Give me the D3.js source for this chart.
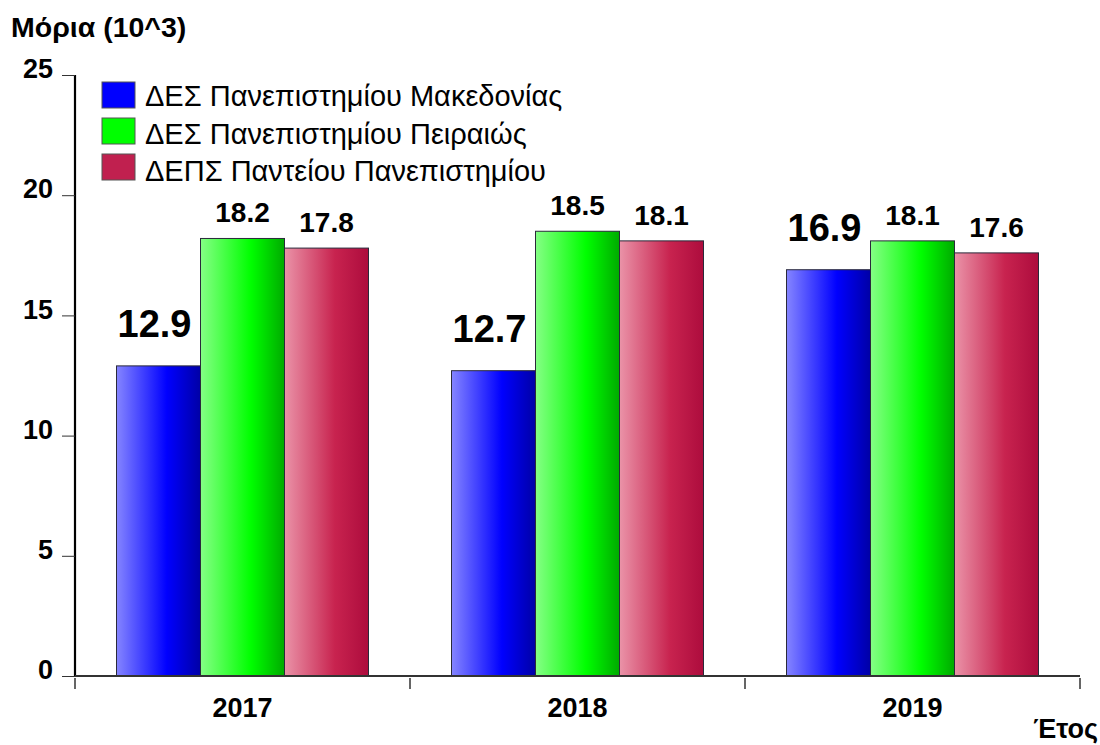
<!DOCTYPE html>
<html lang="el">
<head>
    <meta charset="UTF-8">
    <title>Μόρια ανά έτος</title>
    <script src="https://d3js.org/d3.v7.min.js"></script>
    <style>
        body { margin: 0; background: #fff; }
        text { font-family: "Liberation Sans", Arial, sans-serif; }
    </style>
</head>
<body>
    <div id="my_dataviz"></div>

    <script>
        // data
        var years = ["2017", "2018", "2019"];
        var series = ["ΔΕΣ Πανεπιστημίου Μακεδονίας", "ΔΕΣ Πανεπιστημίου Πειραιώς", "ΔΕΠΣ Παντείου Πανεπιστημίου"];
        var makedonias = [12.9, 12.7, 16.9];
        var peiraios = [18.2, 18.5, 18.1];
        var panteiou = [17.8, 18.1, 17.6];
        var yTicks = [0, 5, 10, 15, 20, 25];

        var W = 1100, H = 745;
        var margin = {top: 75, right: 20, bottom: 68, left: 75};
        var width = 1080 - margin.left;
        var height = 676 - margin.top;

        var svg = d3.select("#my_dataviz")
            .append("svg")
            .attr("width", W)
            .attr("height", H);

        // gradients, light on the left, dark on the right
        var grads = [
            ["#8585ff", "#0000ff", "#0000a6"],
            ["#85ff85", "#00ff00", "#00ab00"],
            ["#ea93a8", "#c8234f", "#ad0c3d"]
        ];
        var swatch = ["#0000ff", "#00ff00", "#c0204f"];
        var defs = svg.append("defs");
        grads.forEach(function(g, i) {
            var lg = defs.append("linearGradient").attr("id", "grad" + i)
                .attr("x1", "0%").attr("x2", "100%").attr("y1", "0%").attr("y2", "0%");
            lg.append("stop").attr("offset", "0%").attr("stop-color", g[0]);
            lg.append("stop").attr("offset", "60%").attr("stop-color", g[1]);
            lg.append("stop").attr("offset", "100%").attr("stop-color", g[2]);
        });

        var g = svg.append("g")
            .attr("transform", "translate(" + margin.left + "," + margin.top + ")");

        var x = d3.scaleBand()
            .domain(years)
            .range([0, width]);

        var xSub = d3.scaleBand()
            .domain(d3.range(series.length))
            .range([41.5, x.bandwidth() - 41.5]);

        var y = d3.scaleLinear()
            .domain([0, 25])
            .range([height, 0]);

        var data = years.map(function(yr, i) {
            return {year: yr, values: [makedonias[i], peiraios[i], panteiou[i]]};
        });

        // bars
        var groups = g.append("g")
            .selectAll("g")
            .data(data)
            .enter()
            .append("g")
            .attr("transform", function(d) { return "translate(" + x(d.year) + ",0)"; });

        groups.selectAll("rect")
            .data(function(d) { return d.values.map(function(v, k) { return {k: k, v: v}; }); })
            .enter().append("rect")
            .attr("x", function(d) { return xSub(d.k); })
            .attr("y", function(d) { return y(d.v); })
            .attr("width", xSub.bandwidth())
            .attr("height", function(d) { return height - y(d.v); })
            .attr("fill", function(d) { return "url(#grad" + d.k + ")"; })
            .attr("stroke", "#2a2a3a")
            .attr("stroke-width", 1);

        // value labels, first series drawn larger
        groups.selectAll("text.val")
            .data(function(d) { return d.values.map(function(v, k) { return {k: k, v: v}; }); })
            .enter().append("text")
            .attr("class", "val")
            .attr("x", function(d) { return xSub(d.k) + xSub.bandwidth() / 2 - (d.k === 0 ? 4 : 0); })
            .attr("y", function(d) { return y(d.v) - (d.k === 0 ? 29 : 16); })
            .attr("text-anchor", "middle")
            .attr("font-weight", "bold")
            .attr("font-size", function(d) { return d.k === 0 ? "38px" : "28px"; })
            .attr("fill", "#000")
            .text(function(d) { return d3.format(".1f")(d.v); });

        // y axis
        var yAxis = g.append("g")
            .call(d3.axisLeft(y).tickValues(yTicks).tickSize(13).tickPadding(9));
        yAxis.select(".domain").attr("stroke", "#000").attr("stroke-width", 2.2)
            .attr("d", "M0," + (height + 1) + "V0");
        yAxis.selectAll(".tick line").attr("stroke", "#333").attr("stroke-width", 1);
        yAxis.selectAll(".tick text")
            .attr("font-size", "27px")
            .attr("font-weight", "bold")
            .attr("fill", "#000")
            .attr("dy", "0.1em");

        // x axis
        var xAxis = g.append("g")
            .attr("transform", "translate(0," + height + ")")
            .call(d3.axisBottom(x).tickSize(0).tickPadding(22));
        xAxis.select(".domain").attr("stroke", "#333").attr("stroke-width", 2)
            .attr("d", "M0,0H" + width);
        xAxis.selectAll(".tick text")
            .attr("font-size", "27px")
            .attr("font-weight", "bold")
            .attr("fill", "#000");
        // separators between years, below the axis
        xAxis.append("g")
            .selectAll("line")
            .data(years.map(function(yr) { return x(yr); }).concat([width]))
            .enter().append("line")
            .attr("x1", function(d) { return d; })
            .attr("x2", function(d) { return d; })
            .attr("y1", 2)
            .attr("y2", 13)
            .attr("stroke", "#333")
            .attr("stroke-width", 1.5);

        // titles
        svg.append("text")
            .attr("x", 11)
            .attr("y", 37)
            .attr("font-size", "28.5px")
            .attr("font-weight", "bold")
            .text("Μόρια (10^3)");

        svg.append("text")
            .attr("x", 1098)
            .attr("y", 738)
            .attr("text-anchor", "end")
            .attr("font-size", "27px")
            .attr("font-weight", "bold")
            .text("Έτος");

        // legend
        var legend = svg.append("g");
        series.forEach(function(name, i) {
            legend.append("rect")
                .attr("x", 102)
                .attr("y", 82 + i * 36)
                .attr("width", 33)
                .attr("height", 26)
                .attr("fill", swatch[i])
                .attr("stroke", "#555")
                .attr("stroke-width", 1);
            legend.append("text")
                .attr("x", 145)
                .attr("y", 106 + i * 37.5)
                .attr("font-size", "29px")
                .attr("fill", "#000")
                .text(name);
        });
    </script>
</body>
</html>
